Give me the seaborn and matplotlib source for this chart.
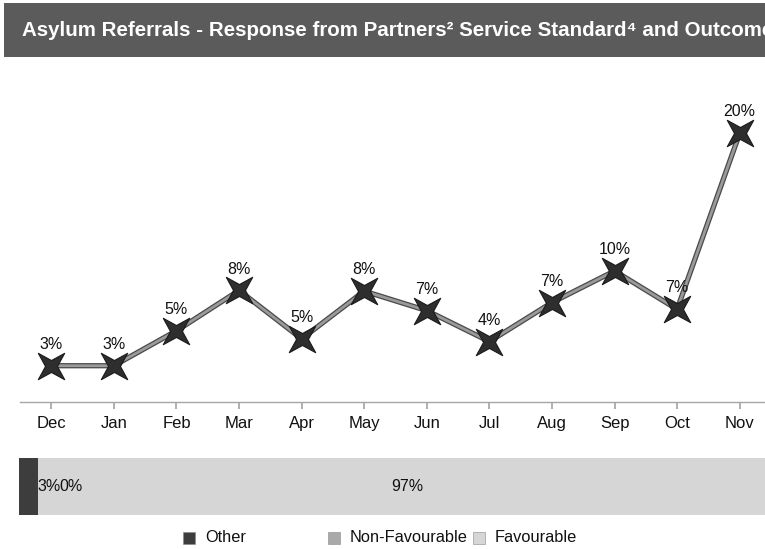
import numpy as np
import pandas as pd
import matplotlib
matplotlib.use("Agg")
import matplotlib.pyplot as plt
import matplotlib.patheffects as pe
from matplotlib.patches import Rectangle
from matplotlib.path import Path
import seaborn as sns

months = ["Dec", "Jan", "Feb", "Mar", "Apr", "May", "Jun", "Jul", "Aug", "Sep", "Oct", "Nov"]
rate = [2.7, 2.7, 5.3, 8.3, 4.7, 8.25, 6.8, 4.5, 7.4, 9.75, 6.9, 20.0]
rate_labels = ["3%", "3%", "5%", "8%", "5%", "8%", "7%", "4%", "7%", "10%", "7%", "20%"]

outcomes = ["Other", "Non-Favourable", "Favourable"]
outcome_share = [2.5, 0.0, 97.5]
outcome_labels = ["3%", "0%", "97%"]
outcome_colors = ["#3d3d3d", "#a9a9a9", "#d6d6d6"]

title = "Asylum Referrals - Response from Partners² Service Standard⁴ and Outcome"

sns.set_theme(style="white")
plt.rcParams["font.family"] = ["Liberation Sans", "DejaVu Sans"]

# thin four-point star with its tips on the diagonals
ang = np.deg2rad(np.arange(8) * 45 + 45)
rad = np.where(np.arange(8) % 2 == 0, 1.0, 0.32)
verts = np.column_stack([rad * np.cos(ang), rad * np.sin(ang)])
star = Path(np.vstack([verts, verts[:1]]), closed=True)

W, H = 765, 549
fig = plt.figure(figsize=(W / 100, H / 100), dpi=100)

# title band
fig.patches.append(Rectangle((4 / W, 1 - 57 / H), 1, 54 / H, transform=fig.transFigure,
                             facecolor="#5b5b5b", edgecolor="none", zorder=0))
fig.text(22 / W, 1 - 30 / H, title, color="white", fontsize=14.8, fontweight="bold",
         va="center", ha="left")

# line chart
ax = fig.add_axes([20 / W, 1 - 402 / H, 751 / W, 336 / H])
df = pd.DataFrame({"month": months, "rate": rate, "x": np.arange(len(months))})
sns.lineplot(data=df, x="x", y="rate", ax=ax, color="#9a9a9a", linewidth=2.0,
             path_effects=[pe.Stroke(linewidth=3.8, foreground="#4a4a4a"), pe.Normal()])
sns.scatterplot(data=df, x="x", y="rate", ax=ax, marker=star, s=360,
                color="#2e2e2e", edgecolor="#1a1a1a", linewidth=0.8, zorder=5)
for i, (v, lab) in enumerate(zip(rate, rate_labels)):
    ax.annotate(lab, (i, v), xytext=(0, 10), textcoords="offset points",
                ha="center", va="bottom", fontsize=11.5, color="#111111")

ax.set_xlim(-0.5, 11.5)
ax.set_ylim(0, 25)
ax.set_xticks(df["x"])
ax.set_xticklabels(months, fontsize=12, color="#111111")
ax.set_yticks([])
ax.set_xlabel("")
ax.set_ylabel("")
for s in ["top", "left", "right"]:
    ax.spines[s].set_visible(False)
ax.spines["bottom"].set_color("#a6a6a6")
ax.spines["bottom"].set_linewidth(1.0)
ax.tick_params(axis="x", bottom=True, direction="out", length=5, color="#a6a6a6", pad=5)
ax.patch.set_alpha(0)

# stacked outcome bar
bx = fig.add_axes([19 / W, 1 - 515 / H, 757 / W, 57 / H])
left = 0
for name, share, col in zip(outcomes, outcome_share, outcome_colors):
    bx.barh([0], [share], left=left, height=1.0, color=col, edgecolor="none", label=name)
    left += share
bx.set_xlim(0, 100)
bx.set_ylim(-0.5, 0.5)
bx.axis("off")
bx.text(outcome_share[0], 0, outcome_labels[0], ha="left", va="center", fontsize=11.5, color="#111111")
bx.annotate(outcome_labels[1], (outcome_share[0], 0), xytext=(15.5, 0), textcoords="offset points",
            ha="left", va="center", fontsize=11.5, color="#111111")
bx.text(outcome_share[0] + outcome_share[1] + outcome_share[2] / 2, 0, outcome_labels[2],
        ha="center", va="center", fontsize=11.5, color="#111111")

# legend with equal column widths
for i, (name, col) in enumerate(zip(outcomes, outcome_colors)):
    x0 = 183 + i * 145
    fig.patches.append(Rectangle((x0 / W, 1 - 544 / H), 12 / W, 12 / H, transform=fig.transFigure,
                                 facecolor=col, edgecolor="#888888", linewidth=0.4))
    fig.text((x0 + 22) / W, 1 - 538 / H, name, fontsize=11.8, va="center", ha="left", color="#111111")

fig.savefig("out.png", dpi=100)
